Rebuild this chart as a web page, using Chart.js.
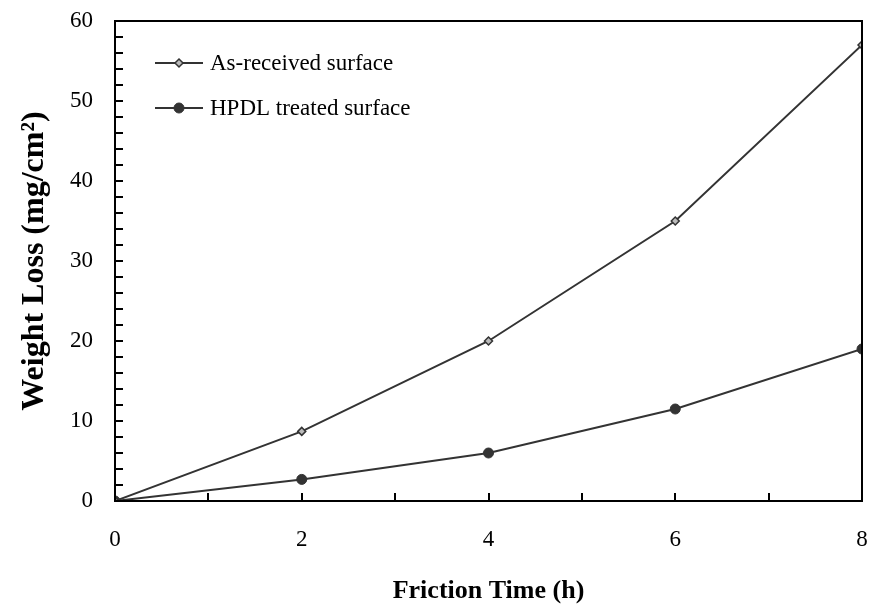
<!DOCTYPE html>
<html>
<head>
<meta charset="utf-8">
<script src="https://cdn.jsdelivr.net/npm/chart.js@4/dist/chart.umd.min.js"></script>
<style>
  html, body { margin: 0; padding: 0; background: #fff; }
  #wrap { width: 870px; height: 614px; }
</style>
</head>
<body>
<div id="wrap"><canvas id="mycanvas" width="870" height="614"></canvas></div>
<script>
var times = [0, 2, 4, 6, 8];
var asReceived = [0, 8.7, 20, 35, 57];
var hpdlTreated = [0, 2.7, 6, 11.5, 19];
var seriesNames = ['As-received surface', 'HPDL treated surface'];
var xLabelTicks = [0, 2, 4, 6, 8];
var yLabelTicks = [0, 10, 20, 30, 40, 50, 60];

function toPoints(xs, ys) {
	var pts = [];
	for (var i in xs) {
		pts.push({x: xs[i], y: ys[i]});
	}
	return pts;
}

function noMargins(s) {
	s.paddingLeft = 0; s.paddingRight = 0;
	s.paddingTop = 0; s.paddingBottom = 0;
}

// inward ticks + full box around the plot
var frame = {
	id: 'frame',
	afterDatasetsDraw: function(chart) {
		var ctx = chart.ctx;
		var a = chart.chartArea;
		var xs = chart.scales.x, ys = chart.scales.y;
		ctx.save();
		ctx.strokeStyle = '#000';
		ctx.lineWidth = 2;
		ctx.beginPath();
		xs.ticks.forEach(function(t) {
			var px = Math.round(xs.getPixelForValue(t.value));
			ctx.moveTo(px, a.bottom);
			ctx.lineTo(px, a.bottom - 8);
		});
		ys.ticks.forEach(function(t) {
			var py = Math.round(ys.getPixelForValue(t.value));
			ctx.moveTo(a.left, py);
			ctx.lineTo(a.left + 8, py);
		});
		ctx.stroke();
		ctx.strokeRect(a.left, a.top, a.right - a.left, a.bottom - a.top);
		ctx.restore();
	}
};

function drawMarker(ctx, ds, x, y) {
	ctx.save();
	ctx.fillStyle = ds.pointBackgroundColor;
	ctx.strokeStyle = ds.pointBorderColor;
	ctx.lineWidth = ds.pointBorderWidth;
	ctx.beginPath();
	if (ds.pointStyle === 'rectRot') {
		var r = ds.pointRadius;
		ctx.moveTo(x, y - r); ctx.lineTo(x + r, y); ctx.lineTo(x, y + r); ctx.lineTo(x - r, y); ctx.closePath();
	} else {
		ctx.arc(x, y, ds.pointRadius, 0, Math.PI * 2);
	}
	ctx.fill();
	ctx.stroke();
	ctx.restore();
}

var serif = '"Liberation Serif", "Times New Roman", serif';

var innerLegend = {
	id: 'innerLegend',
	afterDraw: function(chart) {
		var ctx = chart.ctx;
		var a = chart.chartArea;
		chart.data.datasets.forEach(function(ds, i) {
			var y = a.top + 42 + i * 45;
			var x0 = a.left + 40, x1 = a.left + 88;
			ctx.save();
			ctx.strokeStyle = ds.borderColor;
			ctx.lineWidth = ds.borderWidth;
			ctx.beginPath();
			ctx.moveTo(x0, y); ctx.lineTo(x1, y);
			ctx.stroke();
			ctx.restore();
			drawMarker(ctx, ds, (x0 + x1) / 2, y);
			ctx.save();
			ctx.fillStyle = '#000';
			ctx.font = '23px ' + serif;
			ctx.textBaseline = 'middle';
			ctx.fillText(ds.label, x1 + 7, y + 1);
			ctx.restore();
		});
	}
};

var chartdata = {
	datasets: [
		{
			label: seriesNames[0],
			data: toPoints(times, asReceived),
			borderColor: '#333333',
			borderWidth: 2,
			pointStyle: 'rectRot',
			pointRadius: 4,
			pointBackgroundColor: '#bbbbbb',
			pointBorderColor: '#333333',
			pointBorderWidth: 1.5,
			tension: 0
		},
		{
			label: seriesNames[1],
			data: toPoints(times, hpdlTreated),
			borderColor: '#333333',
			borderWidth: 2,
			pointStyle: 'circle',
			pointRadius: 5,
			pointBackgroundColor: '#333333',
			pointBorderColor: '#333333',
			pointBorderWidth: 1,
			tension: 0
		}
	]
};

var ctx = document.getElementById('mycanvas');
var lineGraph = new Chart(ctx, {
	type: 'line',
	data: chartdata,
	plugins: [frame, innerLegend],
	options: {
		responsive: false,
		animation: false,
		devicePixelRatio: 1,
		layout: { autoPadding: false, padding: { top: 21, right: 8, bottom: 0, left: 0 } },
		plugins: { legend: { display: false }, tooltip: { enabled: false } },
		elements: { point: { hoverRadius: 5 } },
		scales: {
			x: {
				type: 'linear',
				min: 0, max: 8,
				afterFit: function(s) { s.height = 113; noMargins(s); },
				grid: { display: false, drawTicks: false },
				border: { display: false },
				ticks: {
					stepSize: 1,
					autoSkip: false,
					maxRotation: 0,
					padding: 25,
					color: '#000',
					font: { family: serif, size: 23 },
					callback: function(v) { return xLabelTicks.indexOf(v) >= 0 ? v : ''; }
				},
				title: {
					display: true,
					text: 'Friction Time (h)',
					color: '#000',
					font: { family: serif, size: 26, weight: 'bold' },
					padding: { top: 0, bottom: 7 }
				}
			},
			y: {
				min: 0, max: 60,
				afterFit: function(s) { s.width = 115; noMargins(s); },
				grid: { display: false, drawTicks: false },
				border: { display: false },
				ticks: {
					stepSize: 2,
					autoSkip: false,
					padding: 22,
					color: '#000',
					font: { family: serif, size: 23 },
					callback: function(v) { return yLabelTicks.indexOf(v) >= 0 ? v : ''; }
				},
				title: {
					display: true,
					text: 'Weight Loss (mg/cm²)',
					color: '#000',
					font: { family: serif, size: 32, weight: 'bold' },
					padding: { top: 16, bottom: 0 }
				}
			}
		}
	}
});
</script>
</body>
</html>
